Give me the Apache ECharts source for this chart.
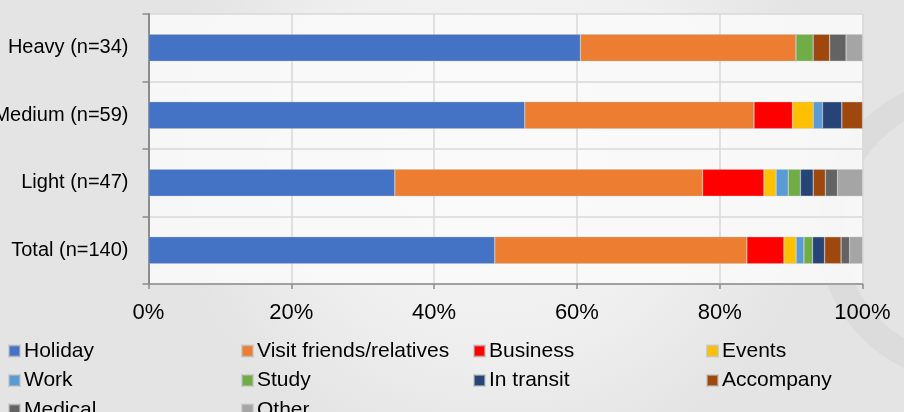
<!DOCTYPE html>
<html>
<head>
<meta charset="utf-8">
<script src="https://cdn.jsdelivr.net/npm/echarts@6/dist/echarts.min.js"></script>
<style>
  html, body { margin: 0; padding: 0; }
  #chart { width: 904px; height: 412px; }
</style>
</head>
<body>
<div id="chart"></div>
<script>
// Visitor groups, bottom to top
const categories = ['Total (n=140)', 'Light (n=47)', 'Medium (n=59)', 'Heavy (n=34)'];

// Share of trip purposes (%) per group, same order as categories
const holiday   = [48.5, 34.5, 52.7, 60.5];
const visitFR   = [35.3, 43.1, 32.1, 30.2];
const business  = [5.2, 8.6, 5.4, 0];
const events    = [1.7, 1.7, 2.9, 0];
const work      = [1.1, 1.7, 1.3, 0];
const study     = [1.2, 1.7, 0, 2.4];
const inTransit = [1.7, 1.8, 2.7, 0];
const accompany = [2.3, 1.7, 2.9, 2.3];
const medical   = [1.2, 1.7, 0, 2.3];
const other     = [1.8, 3.5, 0, 2.3];

const xTicks = [0, 20, 40, 60, 80, 100];

const seriesDefs = [
  ['Holiday', holiday, '#4472C4'],
  ['Visit friends/relatives', visitFR, '#ED7D31'],
  ['Business', business, '#FF0000'],
  ['Events', events, '#FFC000'],
  ['Work', work, '#5B9BD5'],
  ['Study', study, '#70AD47'],
  ['In transit', inTransit, '#264478'],
  ['Accompany', accompany, '#9E480E'],
  ['Medical', medical, '#636363'],
  ['Other', other, '#A5A5A5']
];

const font = 'Liberation Sans, Arial, sans-serif';

function legendCol(left, names) {
  return {
    orient: 'vertical',
    left: left,
    top: 340.5,
    height: 100,
    padding: 0,
    itemWidth: 11,
    itemHeight: 11,
    itemGap: 8.5,
    icon: 'rect',
    data: names,
    textStyle: { fontFamily: font, fontSize: 21, color: '#000', lineHeight: 18, padding: [0, 0, 0, -1] },
    selectedMode: false
  };
}

const chart = echarts.init(document.getElementById('chart'));
chart.setOption({
  animation: false,
  backgroundColor: {
    type: 'radial', x: 0.55, y: 0.35, r: 0.8,
    colorStops: [
      { offset: 0, color: '#f6f6f6' },
      { offset: 0.6, color: '#efefef' },
      { offset: 1, color: '#e4e4e4' }
    ]
  },
  graphic: [
    { type: 'circle', shape: { cx: 970, cy: 230, r: 140 }, style: { fill: 'none', stroke: 'rgba(120,120,120,0.06)', lineWidth: 26, shadowBlur: 20, shadowColor: 'rgba(120,120,120,0.1)' }, silent: true, z: -10 }
  ],
  grid: {
    left: 148.5, right: 41.5, top: 14, bottom: 128,
    outerBoundsMode: 'none',
    containLabel: false,
    show: true, backgroundColor: 'rgba(250,250,250,0.85)', borderWidth: 0
  },
  legend: [
    legendCol(8, ['Holiday', 'Work', 'Medical']),
    legendCol(241, ['Visit friends/relatives', 'Study', 'Other']),
    legendCol(473, ['Business', 'In transit']),
    legendCol(706, ['Events', 'Accompany'])
  ],
  xAxis: {
    type: 'value',
    min: xTicks[0],
    max: xTicks[xTicks.length - 1],
    interval: 20,
    axisLine: { show: true, lineStyle: { color: '#8c8c8c', width: 1.5 } },
    axisTick: { show: true, length: 5, lineStyle: { color: '#8c8c8c', width: 1.5 } },
    splitLine: { show: true, lineStyle: { color: '#d9d9d9', width: 1.5 } },
    axisLabel: { formatter: '{value}%', fontFamily: font, fontSize: 22, color: '#000', margin: 18 }
  },
  yAxis: {
    type: 'category',
    data: categories,
    axisLine: { show: true, lineStyle: { color: '#8c8c8c', width: 2 } },
    axisTick: { show: true, length: 6, lineStyle: { color: '#8c8c8c', width: 1.5 } },
    splitLine: { show: true, lineStyle: { color: '#d9d9d9', width: 1.5 } },
    axisLabel: { fontFamily: font, fontSize: 20, color: '#000', margin: 20 }
  },
  series: seriesDefs.map(([name, data, color]) => ({
    name: name,
    type: 'bar',
    stack: 'purpose',
    data: data,
    barWidth: 27,
    itemStyle: { color: color, borderColor: 'rgba(190,190,190,0.6)', borderWidth: 0.6 }
  }))
});
</script>
</body>
</html>
